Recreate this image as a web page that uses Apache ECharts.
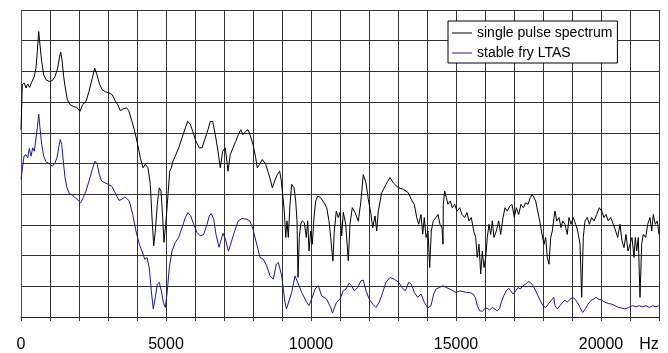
<!DOCTYPE html>
<html>
<head>
<meta charset="utf-8">
<script src="https://cdn.jsdelivr.net/npm/echarts@6/dist/echarts.min.js"></script>
<style>
  html, body { margin: 0; padding: 0; background: #fff; }
  #chart { width: 668px; height: 353px; }
</style>
</head>
<body>
<div id="chart"></div>
<script>
// level in dB (relative, 10 dB per grid line), frequency in Hz
var seriesNames = ['single pulse spectrum', 'stable fry LTAS'];

var pulseHz = [0, 45, 114, 172, 231, 300, 369, 459, 517, 562, 610, 655, 714, 783, 862, 976, 1079, 1172, 1266, 1321,
  1369, 1414, 1472, 1528, 1597, 1690, 1803, 1921, 2034, 2128, 2241, 2345, 2459, 2541, 2621, 2714, 2803, 2921, 3034, 3148,
  3241, 3334, 3424, 3528, 3645, 3714, 3828, 3921, 4024, 4114, 4207, 4286, 4379, 4459, 4517, 4576, 4631, 4700, 4769, 4828,
  4886, 4931, 4990, 5045, 5128, 5183, 5241, 5321, 5438, 5552, 5666, 5748, 5838, 5921, 6034, 6148, 6241, 6355, 6448, 6528,
  6610, 6700, 6793, 6872, 6955, 7045, 7138, 7217, 7310, 7403, 7493, 7576, 7655, 7748, 7828, 7897, 8000, 8093, 8148, 8231,
  8321, 8438, 8528, 8610, 8666, 8748, 8838, 8921, 8976, 9034, 9079, 9128, 9172, 9217, 9276, 9334, 9414, 9472, 9517, 9552,
  9597, 9645, 9700, 9769, 9838, 9886, 9931, 9990, 10045, 10103, 10162, 10231, 10334, 10448, 10541, 10621, 10679, 10755, 10803, 10872,
  10941, 11000, 11059, 11114, 11197, 11286, 11345, 11424, 11517, 11631, 11714, 11803, 11897, 11976, 12059, 12128, 12207, 12266, 12321, 12438,
  12586, 12724, 12838, 13010, 13183, 13355, 13483, 13562, 13645, 13714, 13793, 13852, 13907, 13966, 14034, 14093, 14148, 14217, 14310, 14379,
  14448, 14517, 14552, 14562, 14610, 14666, 14724, 14803, 14872, 14955, 15034, 15128, 15207, 15300, 15379, 15448, 15528, 15610, 15679, 15734,
  15793, 15852, 15907, 15966, 16024, 16079, 16138, 16197, 16252, 16310, 16390, 16472, 16541, 16621, 16690, 16769, 16852, 16931, 17010, 17079,
  17162, 17241, 17321, 17403, 17483, 17562, 17631, 17690, 17748, 17817, 17886, 17966, 18034, 18093, 18148, 18207, 18266, 18321, 18379, 18414,
  18472, 18552, 18621, 18679, 18759, 18838, 18897, 18966, 19045, 19128, 19197, 19276, 19334, 19390, 19448, 19528, 19597, 19679, 19759, 19852,
  19941, 20024, 20103, 20172, 20252, 20334, 20424, 20507, 20576, 20655, 20724, 20793, 20862, 20931, 21000, 21069, 21138, 21183, 21231, 21286,
  21345, 21403, 21459, 21541, 21610, 21690, 21748, 21803, 21872, 21941, 22000];
var pulseDb = [61.0, 75.7, 76.2, 74.6, 75.9, 74.8, 76.5, 78.3, 81.1, 86.5, 93.0, 88.6, 83.2, 78.9, 77.3, 76.7, 77.0, 78.3, 81.1, 84.3,
  86.3, 83.8, 78.3, 74.6, 70.8, 69.2, 68.6, 68.3, 67.0, 69.2, 70.2, 73.5, 77.8, 81.1, 78.9, 75.7, 74.0, 73.3, 73.0, 72.4,
  70.5, 69.2, 67.2, 67.8, 68.1, 67.2, 63.7, 60.5, 56.2, 51.9, 48.6, 49.7, 48.6, 43.2, 32.4, 23.2, 28.0, 36.7, 42.1, 41.0,
  32.4, 24.3, 30.2, 36.7, 47.5, 48.6, 50.8, 52.4, 55.1, 58.3, 61.6, 63.7, 62.7, 60.5, 57.2, 55.1, 55.1, 58.3, 61.0, 63.7,
  63.7, 59.4, 54.0, 48.6, 54.0, 55.1, 47.5, 52.9, 55.1, 57.2, 59.4, 61.0, 59.4, 60.5, 61.0, 59.4, 56.2, 51.9, 48.6, 49.7,
  51.3, 49.7, 47.0, 44.3, 42.1, 44.3, 46.4, 47.5, 44.3, 38.9, 34.5, 25.9, 31.3, 25.9, 36.7, 43.2, 42.1, 37.8, 31.3, 12.9,
  25.9, 30.2, 31.3, 30.7, 25.9, 31.3, 21.5, 28.0, 23.7, 32.4, 37.8, 39.4, 38.9, 37.2, 35.6, 31.3, 25.9, 18.2, 28.0, 34.5,
  32.4, 34.1, 26.4, 34.1, 30.2, 18.3, 30.2, 35.6, 34.0, 31.2, 37.2, 46.4, 43.7, 38.3, 34.0, 29.1, 32.9, 28.0, 34.5, 40.5,
  43.2, 45.4, 43.7, 42.1, 41.6, 40.5, 37.8, 36.7, 32.4, 30.2, 33.4, 27.0, 32.4, 25.9, 28.0, 16.1, 28.0, 31.3, 32.4, 33.4,
  30.2, 29.1, 23.7, 36.7, 41.0, 38.9, 36.7, 37.8, 35.6, 36.7, 34.5, 35.6, 33.4, 32.4, 34.0, 31.3, 32.4, 28.0, 25.9, 19.4,
  23.7, 14.0, 21.5, 16.1, 19.4, 25.9, 30.2, 26.9, 31.3, 25.9, 28.0, 31.3, 26.9, 32.4, 35.6, 34.5, 36.1, 36.7, 32.4, 35.6,
  33.4, 36.7, 35.6, 37.2, 36.7, 38.9, 39.9, 40.5, 37.8, 34.5, 31.3, 26.9, 23.7, 25.9, 19.4, 17.2, 25.9, 28.0, 32.4, 34.5,
  31.3, 32.4, 29.1, 31.3, 30.2, 26.9, 32.4, 30.2, 32.4, 30.2, 28.0, 23.7, 6.4, 25.9, 31.3, 32.4, 30.2, 32.4, 31.3, 33.4,
  35.6, 34.5, 32.4, 33.4, 31.3, 32.4, 30.2, 28.0, 25.9, 30.2, 24.8, 22.6, 26.9, 21.5, 23.7, 25.9, 19.4, 25.9, 21.5, 25.9,
  6.4, 23.7, 26.9, 25.9, 30.2, 32.4, 28.0, 33.4, 30.2, 31.3, 26.9];

var ltasHz = [0, 103, 172, 231, 286, 345, 403, 459, 517, 562, 610, 655, 714, 783, 862, 976, 1079, 1172, 1241, 1300,
  1355, 1403, 1459, 1517, 1586, 1666, 1769, 1862, 1976, 2059, 2148, 2241, 2345, 2459, 2552, 2631, 2700, 2783, 2897, 3010,
  3128, 3217, 3300, 3379, 3472, 3586, 3734, 3852, 3966, 4079, 4172, 4266, 4345, 4424, 4493, 4562, 4631, 4700, 4769, 4838,
  4907, 4976, 5045, 5114, 5207, 5321, 5438, 5552, 5666, 5759, 5852, 5955, 6069, 6183, 6300, 6414, 6493, 6562, 6645, 6724,
  6828, 6966, 7052, 7155, 7259, 7345, 7483, 7621, 7793, 7897, 8000, 8128, 8241, 8355, 8472, 8586, 8700, 8803, 8872, 8990,
  9103, 9155, 9334, 9448, 9541, 9679, 9852, 9931, 10045, 10138, 10252, 10369, 10541, 10679, 10741, 10879, 11000, 11103, 11207, 11310,
  11397, 11493, 11610, 11724, 11803, 11897, 12010, 12128, 12241, 12355, 12472, 12586, 12724, 12872, 13024, 13138, 13252, 13369, 13459, 13562,
  13679, 13793, 13907, 14024, 14138, 14231, 14310, 14424, 14541, 14666, 14783, 14897, 15010, 15128, 15241, 15355, 15472, 15586, 15666, 15734,
  15817, 15907, 15990, 16069, 16162, 16252, 16334, 16424, 16507, 16562, 16645, 16734, 16817, 16886, 16966, 17059, 17138, 17217, 17310, 17403,
  17483, 17562, 17655, 17748, 17828, 17907, 18000, 18093, 18183, 18276, 18369, 18414, 18493, 18586, 18679, 18759, 18838, 18931, 19024, 19103,
  19183, 19276, 19369, 19459, 19552, 19645, 19734, 19828, 19921, 20024, 20138, 20252, 20369, 20483, 20597, 20714, 20828, 20941, 21000, 21093,
  21207, 21321, 21438, 21552, 21666, 21783, 21897, 21990];
var ltasDb = [44.8, 52.4, 52.9, 51.9, 54.9, 52.4, 55.1, 54.0, 58.3, 61.6, 66.1, 61.6, 56.2, 52.4, 50.6, 49.9, 49.1, 50.2, 51.9, 55.1,
  57.8, 56.2, 50.8, 45.4, 42.1, 40.2, 39.7, 38.9, 38.0, 37.2, 38.9, 41.0, 44.3, 48.1, 50.8, 49.7, 46.4, 44.3, 43.7, 43.2,
  42.6, 41.0, 39.4, 38.0, 38.3, 39.1, 37.8, 33.4, 28.0, 23.7, 21.5, 18.8, 19.4, 16.1, 8.5, 2.6, 6.4, 10.7, 11.3, 8.5,
  4.8, 3.1, 8.5, 16.1, 21.5, 24.3, 25.9, 29.1, 32.4, 34.0, 32.9, 30.2, 27.5, 26.4, 26.9, 30.2, 32.9, 33.7, 31.8, 26.9,
  22.7, 27.3, 25.3, 21.4, 24.7, 27.3, 31.2, 32.1, 31.8, 31.2, 28.6, 23.7, 19.4, 18.8, 16.7, 13.4, 12.3, 17.2, 17.8, 13.4,
  4.8, 2.6, 8.0, 13.4, 11.3, 8.0, 4.8, 3.7, 6.4, 9.1, 10.2, 6.9, 5.8, 3.1, 1.3, 4.8, 5.8, 8.4, 9.1, 11.0,
  10.2, 8.5, 9.6, 11.8, 12.0, 8.5, 5.8, 4.2, 3.1, 4.8, 8.0, 11.3, 12.9, 12.3, 11.3, 9.6, 8.5, 11.3, 10.7, 8.0,
  6.4, 7.5, 4.8, 2.9, 3.7, 7.5, 9.1, 9.6, 10.2, 9.6, 9.1, 8.5, 8.0, 8.5, 8.3, 8.0, 8.0, 7.5, 6.4, 3.7,
  2.0, 1.9, 2.6, 2.9, 2.3, 3.1, 2.6, 2.0, 2.9, 4.8, 6.9, 8.5, 9.4, 8.5, 7.5, 8.5, 9.6, 9.1, 10.2, 10.7,
  11.5, 11.3, 10.2, 8.5, 6.9, 5.3, 3.7, 3.1, 4.2, 5.3, 6.4, 3.7, 2.6, 3.7, 4.8, 5.5, 4.8, 5.8, 6.4, 5.8,
  4.8, 3.1, 1.5, 2.6, 4.2, 5.3, 5.8, 6.4, 5.8, 5.5, 4.8, 4.4, 4.2, 3.7, 3.1, 2.9, 2.6, 3.1, 3.7, 3.7,
  3.3, 3.7, 3.3, 3.7, 3.1, 3.7, 3.3, 3.7];

var xLabels = [0, 5000, 10000, 15000, 20000];
var unitLabel = 'Hz';

function zip(xs, ys) {
    return xs.map(function (x, i) { return [x, ys[i]]; });
}

var myChart = echarts.init(document.getElementById('chart'));
var option = {
    animation: false,
    backgroundColor: '#fff',
    grid: { left: 21, right: 9, top: 10, bottom: 35 },
    legend: {
        orient: 'vertical',
        left: 448,
        top: 21,
        padding: [4, 5, 2, 4],
        itemGap: 4,
        itemWidth: 20,
        itemHeight: 1,
        icon: 'rect',
        backgroundColor: '#fff',
        borderColor: '#000',
        borderWidth: 1,
        borderRadius: 0,
        textStyle: { fontFamily: 'Liberation Sans', fontSize: 14, color: '#000', lineHeight: 16 },
        data: seriesNames
    },
    xAxis: {
        type: 'value',
        min: 0,
        max: 22000,
        interval: 1000,
        axisLine: { lineStyle: { color: '#222', width: 1 } },
        axisTick: { show: true, length: 4, lineStyle: { color: '#333' } },
        splitLine: { show: true, lineStyle: { color: '#333', width: 1 } },
        axisLabel: {
            margin: 20,
            fontFamily: 'Liberation Sans',
            fontSize: 16,
            color: '#000',
            formatter: function (v) {
                if (v === 22000) return '{u|' + unitLabel + '}';
                return xLabels.indexOf(v) >= 0 ? String(v) : '';
            },
            rich: {
                u: { fontFamily: 'Liberation Sans', fontSize: 16, color: '#000', padding: [0, 20, 0, 0] }
            }
        }
    },
    yAxis: {
        type: 'value',
        min: 0,
        max: 100,
        interval: 10,
        axisLine: { show: true, lineStyle: { color: '#555' } },
        axisTick: { show: false },
        axisLabel: { show: false },
        splitLine: { show: true, lineStyle: { color: '#333', width: 1 } }
    },
    series: [
        {
            name: seriesNames[0],
            type: 'line',
            symbol: 'none',
            lineStyle: { color: '#000', width: 1 },
            itemStyle: { color: '#000' },
            data: zip(pulseHz, pulseDb)
        },
        {
            name: seriesNames[1],
            type: 'line',
            symbol: 'none',
            lineStyle: { color: '#1a1a8e', width: 1 },
            itemStyle: { color: '#1a1a8e' },
            data: zip(ltasHz, ltasDb)
        }
    ]
};
myChart.setOption(option);
</script>
</body>
</html>
